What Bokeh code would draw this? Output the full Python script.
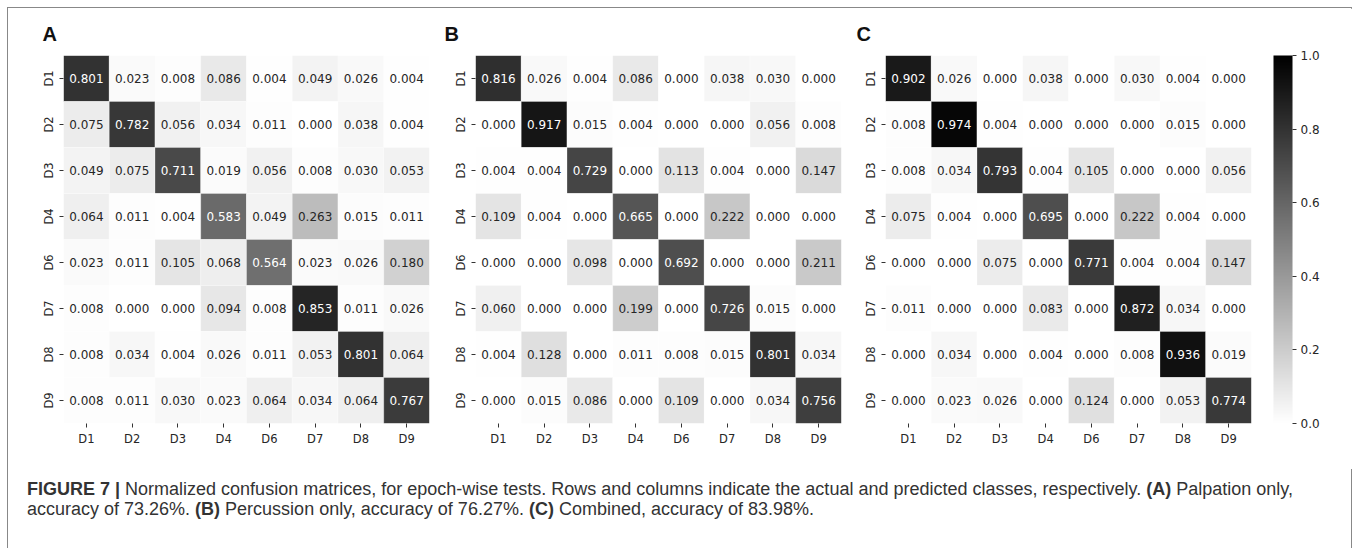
import math
from bokeh.plotting import figure
from bokeh.models import (ColumnDataSource, LinearColorMapper, ColorBar, FixedTicker,
                          PrintfTickFormatter, FactorRange, Div)
from bokeh.layouts import row, column
from bokeh.palettes import Greys256
from bokeh.core.properties import value
from bokeh.embed import file_html
from bokeh.resources import INLINE

classes = ["D1", "D2", "D3", "D4", "D6", "D7", "D8", "D9"]

matrix_a = [
    [0.801, 0.023, 0.008, 0.086, 0.004, 0.049, 0.026, 0.004],
    [0.075, 0.782, 0.056, 0.034, 0.011, 0.000, 0.038, 0.004],
    [0.049, 0.075, 0.711, 0.019, 0.056, 0.008, 0.030, 0.053],
    [0.064, 0.011, 0.004, 0.583, 0.049, 0.263, 0.015, 0.011],
    [0.023, 0.011, 0.105, 0.068, 0.564, 0.023, 0.026, 0.180],
    [0.008, 0.000, 0.000, 0.094, 0.008, 0.853, 0.011, 0.026],
    [0.008, 0.034, 0.004, 0.026, 0.011, 0.053, 0.801, 0.064],
    [0.008, 0.011, 0.030, 0.023, 0.064, 0.034, 0.064, 0.767],
]
matrix_b = [
    [0.816, 0.026, 0.004, 0.086, 0.000, 0.038, 0.030, 0.000],
    [0.000, 0.917, 0.015, 0.004, 0.000, 0.000, 0.056, 0.008],
    [0.004, 0.004, 0.729, 0.000, 0.113, 0.004, 0.000, 0.147],
    [0.109, 0.004, 0.000, 0.665, 0.000, 0.222, 0.000, 0.000],
    [0.000, 0.000, 0.098, 0.000, 0.692, 0.000, 0.000, 0.211],
    [0.060, 0.000, 0.000, 0.199, 0.000, 0.726, 0.015, 0.000],
    [0.004, 0.128, 0.000, 0.011, 0.008, 0.015, 0.801, 0.034],
    [0.000, 0.015, 0.086, 0.000, 0.109, 0.000, 0.034, 0.756],
]
matrix_c = [
    [0.902, 0.026, 0.000, 0.038, 0.000, 0.030, 0.004, 0.000],
    [0.008, 0.974, 0.004, 0.000, 0.000, 0.000, 0.015, 0.000],
    [0.008, 0.034, 0.793, 0.004, 0.105, 0.000, 0.000, 0.056],
    [0.075, 0.004, 0.000, 0.695, 0.000, 0.222, 0.004, 0.000],
    [0.000, 0.000, 0.075, 0.000, 0.771, 0.004, 0.004, 0.147],
    [0.011, 0.000, 0.000, 0.083, 0.000, 0.872, 0.034, 0.000],
    [0.000, 0.034, 0.000, 0.004, 0.000, 0.008, 0.936, 0.019],
    [0.000, 0.023, 0.026, 0.000, 0.124, 0.000, 0.053, 0.774],
]
panel_letters = ["A", "B", "C"]
colorbar_ticks = [0.0, 0.2, 0.4, 0.6, 0.8, 1.0]

caption_html = (
    "<b>FIGURE 7 |</b> Normalized confusion matrices, for epoch-wise tests. Rows and columns "
    "indicate the actual and predicted classes, respectively. <b>(A)</b> Palpation only,<br>"
    "accuracy of 73.26%. <b>(B)</b> Percussion only, accuracy of 76.27%. "
    "<b>(C)</b> Combined, accuracy of 83.98%."
)

palette = list(reversed(Greys256))
mapper = LinearColorMapper(palette=palette, low=0.0, high=1.0)

TICK_FONT = "DejaVu Sans"
TXT = "#262626"


def make_panel(mat, letter, width, left, right, title_offset):
    xs, ys, vs, labels, tcolors = [], [], [], [], []
    for i, r in enumerate(classes):
        for j, c in enumerate(classes):
            v = mat[i][j]
            xs.append(c)
            ys.append(r)
            vs.append(v)
            labels.append(f"{v:.3f}")
            tcolors.append("white" if v > 0.45 else TXT)
    src = ColumnDataSource(dict(x=xs, y=ys, v=vs, label=labels, tc=tcolors))
    p = figure(width=width, height=461, output_backend="svg", toolbar_location=None,
               x_range=FactorRange(*classes), y_range=FactorRange(*reversed(classes)),
               min_border_left=left, min_border_right=right, min_border_top=47,
               min_border_bottom=46, title=letter)
    p.rect(x="x", y="y", width=1, height=1, source=src,
           fill_color={"field": "v", "transform": mapper},
           line_color="white", line_alpha=0.35, line_width=0.8)
    p.text(x="x", y="y", text="label", source=src, text_color="tc",
           text_font=value(TICK_FONT), text_font_size="12px",
           text_align="center", text_baseline="middle")
    p.title.text_font = "Liberation Sans"
    p.title.text_font_size = "20px"
    p.title.text_font_style = "bold"
    p.title.text_color = "#111111"
    p.title.align = "left"
    p.title.offset = title_offset
    p.title.standoff = 22
    p.outline_line_color = None
    p.grid.grid_line_color = None
    for ax in (p.xaxis, p.yaxis):
        ax.axis_line_color = None
        ax.major_tick_in = 0
        ax.major_tick_out = 4
        ax.major_tick_line_color = "#333333"
        ax.minor_tick_line_color = None
        ax.major_label_text_font = TICK_FONT
        ax.major_label_text_font_size = "11.5px"
        ax.major_label_text_color = TXT
    p.yaxis.major_label_orientation = "vertical"
    p.xaxis.major_label_standoff = 4
    p.yaxis.major_label_standoff = 4
    return p


pA = make_panel(matrix_a, panel_letters[0], 431, 55, 10, -21)
pB = make_panel(matrix_b, panel_letters[1], 412, 36, 10, -31)
pC = make_panel(matrix_c, panel_letters[2], 502, 34, 102, -29)

cb = ColorBar(color_mapper=mapper, width=19, height=368,
              ticker=FixedTicker(ticks=colorbar_ticks),
              formatter=PrintfTickFormatter(format="%.1f"),
              major_tick_in=0, major_tick_out=4, major_tick_line_color="#333333",
              minor_tick_line_color=None, bar_line_color=None, border_line_color=None,
              background_fill_alpha=0, padding=0, margin=0, label_standoff=4,
              major_label_text_font=TICK_FONT, major_label_text_font_size="12px",
              major_label_text_color=TXT, location=(22, 0))
pC.add_layout(cb, "right")

caption = Div(text=caption_html, width=1345, height=80,
              styles={"font-family": "Liberation Sans", "font-size": "18px",
                      "line-height": "20px", "color": "#333333",
                      "padding-left": "14px", "padding-top": "5px"})

layout = column(row(pA, pB, pC, width=1345), caption, width=1345,
                styles={"border": "1px solid #888888", "margin-left": "7px",
                        "margin-top": "7px"})

open("out.html", "w").write(file_html(layout, INLINE))
